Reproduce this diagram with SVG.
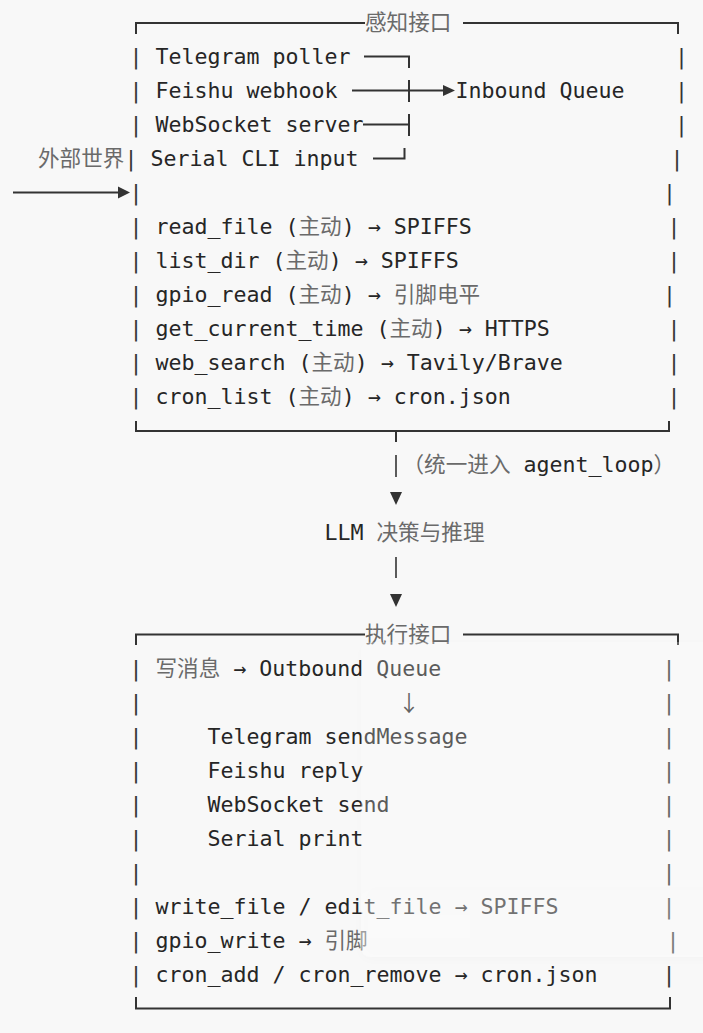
<svg xmlns="http://www.w3.org/2000/svg" width="703" height="1033" viewBox="0 0 703 1033">
<style>
.t{font-family:"DejaVu Sans Mono","Noto Sans CJK SC",monospace;font-size:21.6px;fill:#262626;white-space:pre}
.c{fill:#6a6a6a}
.p{font-family:"DejaVu Sans Mono",monospace;font-size:21.6px;fill:#333;text-anchor:middle}
.ln{stroke:#333;stroke-width:2;fill:none}
.ah{fill:#333}
</style>
<defs>
<filter id="sh" x="-20%" y="-20%" width="140%" height="140%">
<feGaussianBlur in="SourceAlpha" stdDeviation="6"/>
<feOffset dx="0" dy="2" result="b"/>
<feComponentTransfer><feFuncA type="linear" slope="0.06"/></feComponentTransfer>
<feMerge><feMergeNode/><feMergeNode in="SourceGraphic"/></feMerge>
</filter>
</defs>
<rect width="703" height="1033" fill="#f8f8f8"/>

<g id="perception">
<path class="ln" d="M136,34 V23 H365 M463,23 H678 V34"/>
<text class="t c" x="365" y="30">感知接口</text>
<path class="ln" d="M136,421 V431 H669 V421"/>
<g class="p">
<text x="136" y="64">|</text><text x="136" y="98">|</text><text x="136" y="132">|</text>
<text x="131" y="166">|</text><text x="136" y="200">|</text><text x="136" y="234">|</text>
<text x="136" y="268">|</text><text x="136" y="302">|</text><text x="136" y="336">|</text>
<text x="136" y="370">|</text><text x="136" y="404">|</text>
<text x="681.5" y="64">|</text><text x="681.5" y="98">|</text><text x="681.5" y="132">|</text>
<text x="677" y="166">|</text><text x="669.5" y="200">|</text><text x="674" y="234">|</text>
<text x="674" y="268">|</text><text x="669.5" y="302">|</text><text x="674" y="336">|</text>
<text x="674" y="370">|</text><text x="674" y="404">|</text>
</g>
<text class="t" x="155.5" y="64">Telegram poller</text>
<text class="t" x="155.5" y="98">Feishu webhook</text>
<text class="t" x="455.5" y="98">Inbound Queue</text>
<text class="t" x="155.5" y="132">WebSocket server</text>
<text class="t" x="150.5" y="166">Serial CLI input</text>
<text class="t" x="155.5" y="234">read_file (<tspan class="c">主动</tspan>) → SPIFFS</text>
<text class="t" x="155.5" y="268">list_dir (<tspan class="c">主动</tspan>) → SPIFFS</text>
<text class="t" x="155.5" y="302">gpio_read (<tspan class="c">主动</tspan>) → <tspan class="c">引脚电平</tspan></text>
<text class="t" x="155.5" y="336">get_current_time (<tspan class="c">主动</tspan>) → HTTPS</text>
<text class="t" x="155.5" y="370">web_search (<tspan class="c">主动</tspan>) → Tavily/Brave</text>
<text class="t" x="155.5" y="404">cron_list (<tspan class="c">主动</tspan>) → cron.json</text>
</g>

<g id="external">
<text class="t c" x="38" y="166">外部世界</text>
</g>

<g id="llm">
<text class="t" x="324.5" y="540">LLM <tspan class="c">决策与推理</tspan></text>
</g>

<g id="execution">
<path class="ln" d="M136,645 V634.5 H365 M463,634.5 H678 V645"/>
<text class="t c" x="365" y="642">执行接口</text>
<path class="ln" d="M136,997 V1008.5 H670 V997"/>
<g class="p">
<text x="136" y="676">|</text><text x="136" y="710">|</text><text x="136" y="744">|</text>
<text x="136" y="778">|</text><text x="136" y="812">|</text><text x="136" y="846">|</text>
<text x="136" y="880">|</text><text x="136" y="914">|</text><text x="136" y="948">|</text>
<text x="136" y="982">|</text>
<text x="669" y="676">|</text><text x="669" y="710">|</text><text x="669" y="744">|</text>
<text x="669" y="778">|</text><text x="669" y="812">|</text><text x="669" y="846">|</text>
<text x="669" y="880">|</text><text x="669" y="914">|</text><text x="673" y="948">|</text>
<text x="669" y="982">|</text>
</g>
<text class="t" x="155.5" y="676"><tspan class="c">写消息</tspan> → Outbound Queue</text>
<text class="t" x="207.5" y="744">Telegram sendMessage</text>
<text class="t" x="207.5" y="778">Feishu reply</text>
<text class="t" x="207.5" y="812">WebSocket send</text>
<text class="t" x="207.5" y="846">Serial print</text>
<text class="t" x="155.5" y="914">write_file / edit_file → SPIFFS</text>
<text class="t" x="155.5" y="948">gpio_write → <tspan class="c">引脚</tspan></text>
<text class="t" x="155.5" y="982">cron_add / cron_remove → cron.json</text>
</g>

<g id="connectors">
<path class="ln" d="M364,56.5 H409 V68"/>
<path class="ln" d="M352,90.5 H443 M409,80 V102"/>
<polygon class="ah" points="443,85 455,90.5 443,96"/>
<path class="ln" d="M363,124.5 H409 M409,114 V136"/>
<path class="ln" d="M373,158.5 H404.5 V148"/>
<path class="ln" d="M13,192.5 H118"/>
<polygon class="ah" points="118,186.5 130,192.5 118,198.5"/>
<path class="ln" d="M396,431 V442"/>
<path class="ln" style="stroke-width:1.6" d="M396,455 V477"/>
<text class="t c" x="402.5" y="472">（统一进入 <tspan fill="#262626">agent_loop</tspan>）</text>
<polygon class="ah" points="390,492 402,492 396,505"/>
<path class="ln" style="stroke-width:1.6" d="M396,557 V578"/>
<polygon class="ah" points="390,594 402,594 396,607"/>
<text x="409" y="711" style="font-family:'Noto Sans CJK SC',sans-serif;font-size:22px;fill:#333;text-anchor:middle">↓</text>
</g>

<g id="overlay" filter="url(#sh)">
<rect x="361" y="642" width="380" height="315" rx="9" fill="#ffffff" fill-opacity="0.24"/>
<rect x="361" y="890" width="380" height="67" rx="9" fill="#ffffff" fill-opacity="0.14"/>
<rect x="368" y="915" width="102" height="23" fill="#ffffff" fill-opacity="0.12"/>
</g>
</svg>
